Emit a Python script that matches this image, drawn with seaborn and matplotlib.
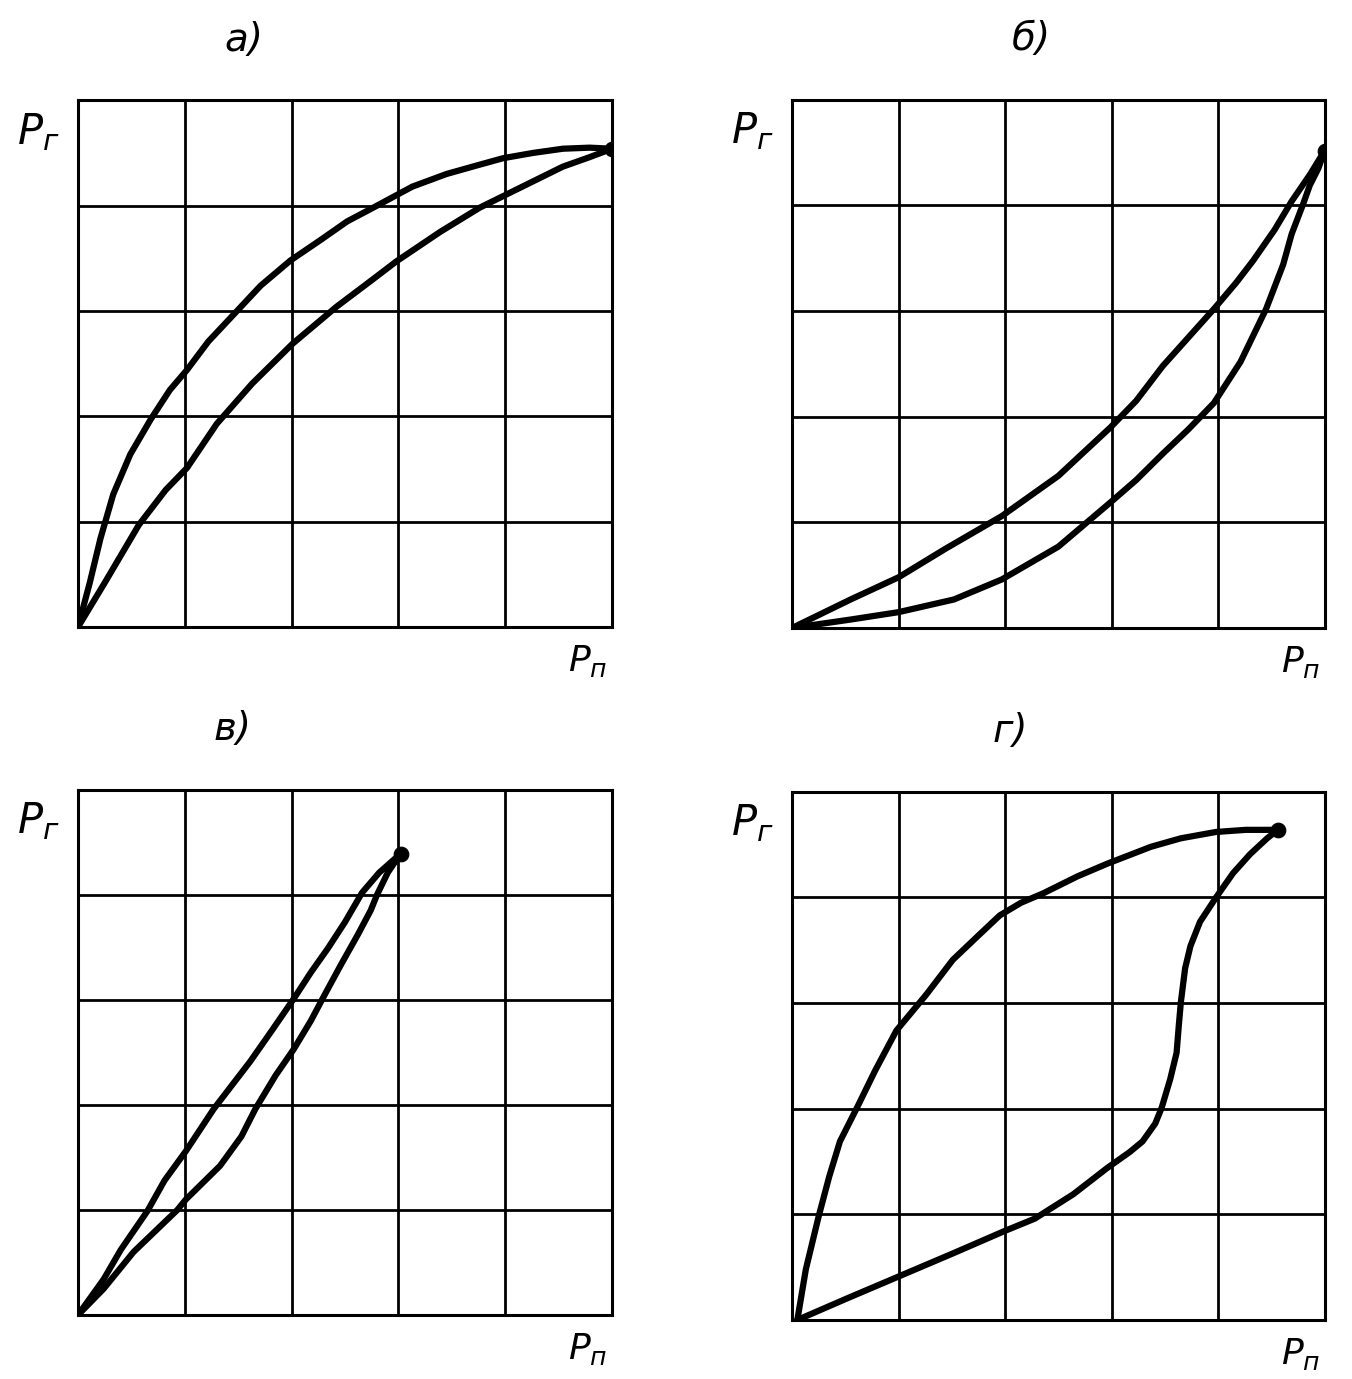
import numpy as np
import pandas as pd
import matplotlib
matplotlib.use("Agg")
import matplotlib.pyplot as plt
import seaborn as sns

sns.set_style("white")
plt.rcParams['font.family'] = ['DejaVu Sans']
plt.rcParams['text.color'] = 'black'

# panel labels
labels = ['а)', 'б)', 'в)', 'г)']

# а) upper and lower branches
a_up_x = [0, 0.11, 0.21, 0.33, 0.49, 0.68, 0.86, 1.02, 1.22, 1.47, 1.71, 1.99, 2.28, 2.52,
          2.80, 3.13, 3.45, 3.73, 3.98, 4.26, 4.54, 4.79, 5.0]
a_up_y = [0, 0.42, 0.84, 1.26, 1.64, 1.97, 2.25, 2.44, 2.71, 2.98, 3.24, 3.48, 3.68, 3.85,
          4.00, 4.18, 4.30, 4.38, 4.45, 4.50, 4.54, 4.55, 4.54]
a_lo_x = [0, 0.25, 0.57, 0.82, 1.02, 1.30, 1.63, 2.01, 2.42, 2.76, 2.98, 3.39, 3.76,
          4.14, 4.54, 4.79, 5.0]
a_lo_y = [0, 0.42, 0.97, 1.30, 1.51, 1.93, 2.31, 2.69, 3.04, 3.30, 3.47, 3.75, 3.98,
          4.17, 4.37, 4.46, 4.54]

# б)
b_up_x = [0, 0.55, 1.00, 1.44, 1.97, 2.50, 2.99, 3.23, 3.48, 3.72, 3.96, 4.17, 4.33, 4.53,
          4.69, 4.86, 5.0]
b_up_y = [0, 0.27, 0.48, 0.75, 1.06, 1.44, 1.90, 2.15, 2.48, 2.75, 3.02, 3.27, 3.48, 3.77,
          4.04, 4.29, 4.52]
b_lo_x = [0, 0.55, 1.00, 1.52, 1.97, 2.50, 2.99, 3.23, 3.48, 3.72, 3.96, 4.21, 4.45, 4.61,
          4.69, 4.80, 4.86, 4.94, 5.0]
b_lo_y = [0, 0.08, 0.15, 0.27, 0.46, 0.77, 1.19, 1.40, 1.65, 1.88, 2.13, 2.52, 3.02, 3.44,
          3.73, 4.02, 4.19, 4.35, 4.52]

# в)
c_up_x = [0, 0.24, 0.40, 0.65, 0.81, 1.01, 1.27, 1.61, 1.81, 2.02, 2.18, 2.34, 2.50, 2.66,
          2.82, 3.02]
c_up_y = [0, 0.34, 0.62, 0.99, 1.28, 1.56, 1.96, 2.41, 2.70, 3.01, 3.26, 3.49, 3.74, 4.02,
          4.21, 4.39]
c_lo_x = [0, 0.24, 0.52, 0.93, 1.01, 1.33, 1.53, 1.66, 1.85, 2.02, 2.18, 2.30, 2.46, 2.62,
          2.74, 2.80, 2.90, 3.02]
c_lo_y = [0, 0.25, 0.60, 1.00, 1.10, 1.42, 1.70, 1.96, 2.28, 2.53, 2.80, 3.03, 3.33, 3.62,
          3.85, 4.00, 4.21, 4.39]

# г)
d_up_x = [0.05, 0.13, 0.25, 0.35, 0.45, 0.62, 0.78, 0.98, 1.26, 1.51, 1.75, 1.95, 2.15, 2.36,
          2.68, 2.96, 3.37, 3.65, 3.98, 4.26, 4.56]
d_up_y = [0, 0.48, 0.98, 1.36, 1.69, 2.03, 2.36, 2.74, 3.08, 3.41, 3.64, 3.83, 3.95, 4.04,
          4.20, 4.32, 4.48, 4.56, 4.62, 4.64, 4.64]
d_lo_x = [0.05, 0.53, 1.02, 1.51, 1.99, 2.28, 2.64, 2.96, 3.17, 3.29, 3.41, 3.47, 3.55, 3.61,
          3.63, 3.65, 3.69, 3.74, 3.83, 3.98, 4.14, 4.30, 4.46, 4.56]
d_lo_y = [0, 0.21, 0.42, 0.63, 0.84, 0.96, 1.19, 1.44, 1.59, 1.69, 1.86, 2.01, 2.28, 2.53,
          2.78, 3.01, 3.33, 3.54, 3.77, 4.00, 4.23, 4.41, 4.56, 4.64]

curves = [
    (a_up_x, a_up_y, a_lo_x, a_lo_y),
    (b_up_x, b_up_y, b_lo_x, b_lo_y),
    (c_up_x, c_up_y, c_lo_x, c_lo_y),
    (d_up_x, d_up_y, d_lo_x, d_lo_y),
]

# axes boxes in figure fractions
boxes = [
    [0.0577, 0.5453, 0.395, 0.382],
    [0.5858, 0.5446, 0.394, 0.383],
    [0.0577, 0.0464, 0.395, 0.381],
    [0.5858, 0.0428, 0.394, 0.383],
]
label_x = [0.31, 0.45, 0.29, 0.41]

fig = plt.figure(figsize=(13.52, 13.79), dpi=100)

for i in range(4):
    ax = fig.add_axes(boxes[i])
    ux, uy, lx, ly = curves[i]
    up = pd.DataFrame({'x': ux, 'y': uy})
    lo = pd.DataFrame({'x': lx, 'y': ly})
    for df in (up, lo):
        sns.lineplot(data=df, x='x', y='y', sort=False, color='black', lw=4.5, ax=ax,
                     solid_capstyle='round', solid_joinstyle='round')
    sns.scatterplot(x=[ux[-1]], y=[uy[-1]], color='black', edgecolor='black', s=110,
                    ax=ax, zorder=5)

    ax.set_xlim(0, 5)
    ax.set_ylim(0, 5)
    ax.set_xticks(range(6))
    ax.set_yticks(range(6))
    ax.set_xticklabels([])
    ax.set_yticklabels([])
    ax.tick_params(length=0)
    ax.grid(True, color='black', lw=2)
    ax.set_axisbelow(True)
    for s in ax.spines.values():
        s.set_color('black')
        s.set_linewidth(2.2)
    ax.set_xlabel('')
    ax.set_ylabel('')

    ax.text(label_x[i], 1.115, labels[i], transform=ax.transAxes, fontsize=28,
            fontstyle='italic', ha='center', va='center', color='black')
    ax.text(-0.075, 0.94, r'$P_{г}$', transform=ax.transAxes, fontsize=30,
            ha='center', va='center', color='black')
    ax.text(0.955, -0.065, r'$P_{п}$', transform=ax.transAxes, fontsize=26,
            ha='center', va='center', color='black')

fig.savefig('out.png', dpi=100)
